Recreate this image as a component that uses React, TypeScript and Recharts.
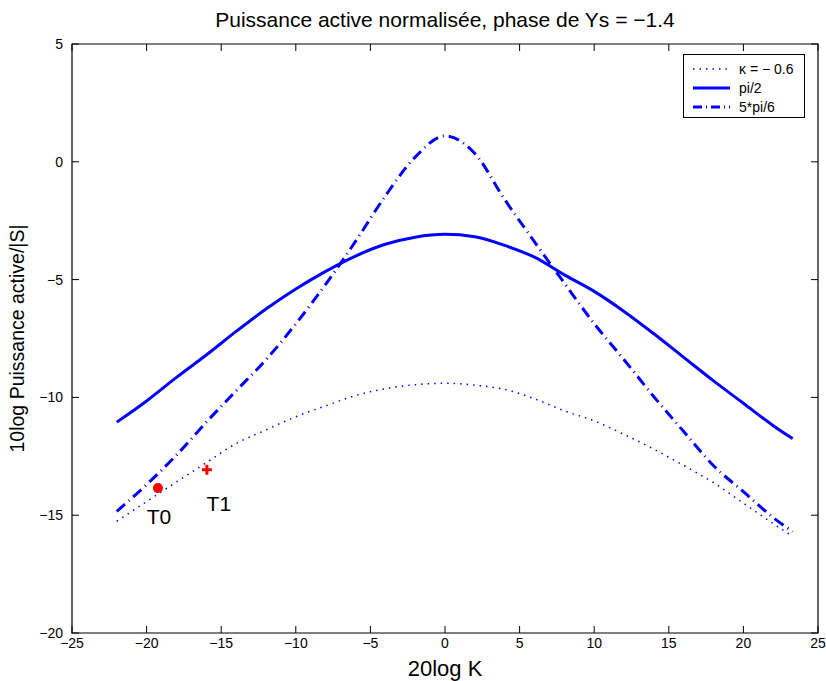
import React from 'react';
import { ComposedChart, Line, Scatter, XAxis, YAxis, ReferenceArea } from 'recharts';

// 20log K sample positions
const xValues = [-22, -20, -18, -16, -14, -12, -10, -8, -6, -4, -2, 0, 2, 4, 6, 8, 10, 12, 14, 16, 18, 20, 22, 23.3];

// kappa = -0.6 (dotted)
const kappaValues = [-15.26, -14.42, -13.59, -12.77, -11.96, -11.38, -10.82, -10.36, -9.92, -9.63, -9.46, -9.4, -9.48, -9.66, -10.06, -10.57, -11.0, -11.57, -12.2, -12.89, -13.62, -14.49, -15.36, -15.9];
// pi/2 (solid)
const pi2Values = [-11.05, -10.15, -9.15, -8.2, -7.2, -6.25, -5.4, -4.65, -4.0, -3.5, -3.2, -3.08, -3.18, -3.55, -4.05, -4.8, -5.5, -6.35, -7.3, -8.3, -9.3, -10.25, -11.2, -11.75];
// 5*pi/6 (dash-dot)
const pi56Values = [-14.84, -13.7, -12.45, -11.05, -9.72, -8.4, -6.88, -5.2, -3.38, -1.45, 0.2, 1.1, 0.35, -1.6, -3.4, -5.15, -6.87, -8.4, -9.97, -11.45, -12.9, -14.0, -15.1, -15.7];

const t0Point = [{ x: -19.24, y: -13.85 }];
const t1Point = [{ x: -15.96, y: -13.07 }];

const xTicks = [-25, -20, -15, -10, -5, 0, 5, 10, 15, 20, 25];
const yTicks = [-20, -15, -10, -5, 0, 5];

const data = xValues.map((x, i) => ({
  x,
  kappa: kappaValues[i],
  pi2: pi2Values[i],
  pi56: pi56Values[i],
}));

const FONT = '"Liberation Sans", Arial, Helvetica, sans-serif';
const BLUE = '#0000ff';
const RED = '#ff0000';

// plot box (matlab style axes)
const W = 826;
const H = 681;
const M_TOP = 44;
const M_RIGHT = 8;
const X_AXIS_H = 48;
const Y_AXIS_W = 72;
const PLOT_TOP = M_TOP;
const PLOT_BOTTOM = H - X_AXIS_H;
const PLOT_LEFT = Y_AXIS_W;
const PLOT_RIGHT = W - M_RIGHT;
const TICK_LEN = 7;

const fmt = (v: number) => (v < 0 ? '\u2212' + Math.abs(v) : String(v));

// bottom tick: label + inward marks on bottom and top edges
const XTick = (props: any) => {
  const { x, y, payload } = props;
  return (
    <g>
      <line x1={x} x2={x} y1={PLOT_BOTTOM} y2={PLOT_BOTTOM - TICK_LEN} stroke="#000" />
      <line x1={x} x2={x} y1={PLOT_TOP} y2={PLOT_TOP + TICK_LEN} stroke="#000" />
      <text x={x} y={y + 3} dy="0.71em" textAnchor="middle" fontSize={14} fontFamily={FONT} fill="#000">
        {fmt(payload.value)}
      </text>
    </g>
  );
};

// left tick: label + inward marks on left and right edges
const YTick = (props: any) => {
  const { y, payload } = props;
  return (
    <g>
      <line x1={PLOT_LEFT} x2={PLOT_LEFT + TICK_LEN} y1={y} y2={y} stroke="#000" />
      <line x1={PLOT_RIGHT} x2={PLOT_RIGHT - TICK_LEN} y1={y} y2={y} stroke="#000" />
      <text x={PLOT_LEFT - 9} y={y} dy="0.355em" textAnchor="end" fontSize={14} fontFamily={FONT} fill="#000">
        {fmt(payload.value)}
      </text>
    </g>
  );
};

const Dot = (props: any) => {
  const { cx, cy } = props;
  return (
    <g>
      <circle cx={cx} cy={cy} r={5} fill={RED} />
      <text x={cx + 1} y={cy + 36} textAnchor="middle" fontSize={21} fontFamily={FONT} fill="#000">
        T0
      </text>
    </g>
  );
};

const Plus = (props: any) => {
  const { cx, cy } = props;
  return (
    <g>
      <rect x={cx - 5} y={cy - 1.5} width={10} height={3} fill={RED} />
      <rect x={cx - 1.5} y={cy - 5} width={3} height={10} fill={RED} />
      <text x={cx + 12} y={cy + 41} textAnchor="middle" fontSize={21} fontFamily={FONT} fill="#000">
        T1
      </text>
    </g>
  );
};

const YLabel = (props: any) => {
  const vb = props.viewBox || { x: 0, y: PLOT_TOP, width: Y_AXIS_W, height: PLOT_BOTTOM - PLOT_TOP };
  const cx = 24;
  const cy = vb.y + vb.height / 2;
  return (
    <text x={cx} y={cy} transform={`rotate(-90, ${cx}, ${cy})`} textAnchor="middle" fontSize={19.5} fontFamily={FONT} fill="#000">
      10log Puissance active/|S|
    </text>
  );
};

const XLabel = (props: any) => {
  const vb = props.viewBox || { x: PLOT_LEFT, y: PLOT_BOTTOM, width: PLOT_RIGHT - PLOT_LEFT, height: X_AXIS_H };
  return (
    <text x={vb.x + vb.width / 2} y={676} textAnchor="middle" fontSize={22} fontFamily={FONT} fill="#000">
      20log K
    </text>
  );
};

const legendItems = [
  { label: '\u03ba = \u2212 0.6', dash: '1.5 5', width: 1.5 },
  { label: 'pi/2', dash: '', width: 3 },
  { label: '5*pi/6', dash: '9 4 1 4', width: 3 },
];

const LegendBox = () => (
  <div
    style={{
      position: 'absolute',
      left: 683,
      top: 54,
      width: 122,
      height: 64,
      border: '1px solid #000',
      background: '#fff',
      padding: '4px 0 0 0',
      fontFamily: FONT,
      fontSize: 14,
      boxSizing: 'border-box',
      lineHeight: '20px',
    }}
  >
    {legendItems.map((it) => (
      <div key={it.label} style={{ display: 'flex', alignItems: 'center', height: 19 }}>
        <svg width={40} height={10} style={{ marginLeft: 8, marginRight: 7 }}>
          <line x1={1} y1={5} x2={38} y2={5} stroke={BLUE} strokeWidth={it.width} strokeDasharray={it.dash} />
        </svg>
        <span>{it.label}</span>
      </div>
    ))}
  </div>
);

export default function App() {
  return (
    <div style={{ position: 'absolute', left: 0, top: 0, width: W, height: H, background: '#fff', fontFamily: FONT }}>
      <div
        style={{
          position: 'absolute',
          left: PLOT_LEFT,
          width: PLOT_RIGHT - PLOT_LEFT,
          top: 8,
          textAlign: 'center',
          fontSize: 21,
          color: '#000',
        }}
      >
        Puissance active normalisée, phase de Ys = {'\u2212'}1.4
      </div>
      <ComposedChart
        width={W}
        height={H}
        data={data}
        margin={{ top: M_TOP, right: M_RIGHT, bottom: 0, left: 0 }}
        style={{ fontFamily: FONT }}
      >
        <XAxis
          dataKey="x"
          type="number"
          domain={[-25, 25]}
          ticks={xTicks}
          height={X_AXIS_H}
          axisLine={false}
          tickLine={false}
          tickSize={0}
          tick={<XTick />}
          interval={0}
          allowDataOverflow
          label={<XLabel />}
        />
        <YAxis
          type="number"
          domain={[-20, 5]}
          ticks={yTicks}
          width={Y_AXIS_W}
          axisLine={false}
          tickLine={false}
          tickSize={0}
          tick={<YTick />}
          interval={0}
          allowDataOverflow
          label={<YLabel />}
        />
        <ReferenceArea x1={-25} x2={25} y1={-20} y2={5} fill="none" stroke="#000" strokeWidth={1.2} />
        <Line
          type="monotone"
          dataKey="kappa"
          stroke={BLUE}
          strokeWidth={1.5}
          strokeDasharray="1.5 5"
          dot={false}
          activeDot={false}
          isAnimationActive={false}
        />
        <Line
          type="monotone"
          dataKey="pi2"
          stroke={BLUE}
          strokeWidth={3}
          dot={false}
          activeDot={false}
          isAnimationActive={false}
        />
        <Line
          type="monotone"
          dataKey="pi56"
          stroke={BLUE}
          strokeWidth={3}
          strokeDasharray="11 5 1 5"
          dot={false}
          activeDot={false}
          isAnimationActive={false}
        />
        <Scatter data={t0Point} dataKey="y" shape={<Dot />} isAnimationActive={false} />
        <Scatter data={t1Point} dataKey="y" shape={<Plus />} isAnimationActive={false} />
      </ComposedChart>
      <LegendBox />
    </div>
  );
}
